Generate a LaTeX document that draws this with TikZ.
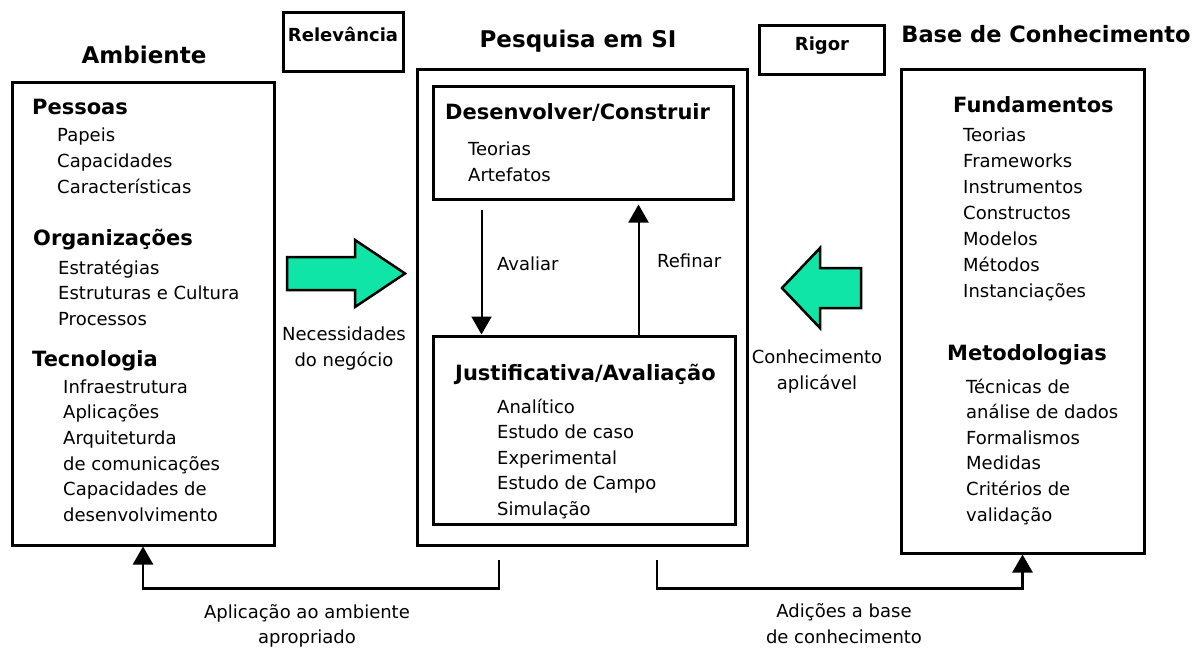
\documentclass[tikz,border=0pt]{standalone}
\usepackage{fontspec}
\setmainfont{DejaVu Sans}
\usetikzlibrary{arrows.meta}
\definecolor{arrowgreen}{RGB}{16,229,168}
\begin{document}
\begin{tikzpicture}[x=1pt,y=-1pt,
 box/.style={draw, line width=3pt, inner sep=0},
 item/.style={anchor=base west, inner sep=0, font=\fontsize{18}{22}\selectfont},
 citem/.style={anchor=base, inner sep=0, font=\fontsize{18}{22}\selectfont},
 head/.style={anchor=base west, inner sep=0, font=\fontsize{21}{25}\selectfont\bfseries},
 title/.style={anchor=base, inner sep=0, font=\fontsize{23}{27}\selectfont\bfseries},
 tag/.style={anchor=base, inner sep=0, font=\fontsize{18}{22}\selectfont\bfseries},
 conn/.style={line width=2.5pt, -{Triangle[width=20pt,length=18pt]}},
 inconn/.style={line width=2pt, -{Triangle[width=20pt,length=18pt]}},
 bigarrow/.style={draw, line width=2.5pt, fill=arrowgreen, line join=miter}]
\useasboundingbox (0,0) rectangle (1196,648);

% boxes
\node[box, minimum width=262, minimum height=463] (amb) at (143,313.5) {};
\node[box, minimum width=120, minimum height=59] (relbox) at (343,41.5) {};
\node[box, minimum width=125, minimum height=49] (rigbox) at (821.5,49.5) {};
\node[box, minimum width=330, minimum height=476] (pes) at (582,307) {};
\node[box, minimum width=300, minimum height=113] (dev) at (583,142.5) {};
\node[box, minimum width=302, minimum height=188] (jus) at (584,430) {};
\node[box, minimum width=243, minimum height=484] (kb) at (1022.5,311) {};

% titles
\node[title] (tamb) at (144,63) {Ambiente};
\node[title] (tpes) at (578,47) {Pesquisa em SI};
\node[title, font=\fontsize{22.5}{27}\selectfont\bfseries] (tkb) at (1046,42) {Base de Conhecimento};
\node[tag] (trel) at (343,41) {Relevância};
\node[tag] (trig) at (822,50) {Rigor};

% Ambiente contents
\node[head] (hpessoas) at (32,114) {Pessoas};
\foreach \t [count=\i] in {Papeis,Capacidades,Características}
  \node[item] (pe\i) at (57,{141+26*(\i-1)}) {\t};
\node[head] (horg) at (33,245) {Organizações};
\foreach \t [count=\i] in {Estratégias,Estruturas e Cultura,Processos}
  \node[item] (or\i) at (58,{274+25.5*(\i-1)}) {\t};
\node[head] (htec) at (32,366) {Tecnologia};
\foreach \t [count=\i] in {Infraestrutura,Aplicações,Arquiteturda,de comunicações,Capacidades de,desenvolvimento}
  \node[item] (te\i) at (63,{393+25.7*(\i-1)}) {\t};

% Pesquisa contents
\node[head] (hdev) at (445,119) {Desenvolver/Construir};
\node[item] (dv1) at (468,155) {Teorias};
\node[item] (dv2) at (468,181) {Artefatos};
\node[head] (hjus) at (455,380) {Justificativa/Avaliação};
\foreach \t [count=\i] in {Analítico,Estudo de caso,Experimental,Estudo de Campo,Simulação}
  \node[item] (ju\i) at (497,{413+25.5*(\i-1)}) {\t};
\node[item] (lav) at (497,270) {Avaliar};
\node[item] (lref) at (657,267) {Refinar};

% Base de conhecimento contents
\node[head] (hfun) at (953,112) {Fundamentos};
\foreach \t [count=\i] in {Teorias,Frameworks,Instrumentos,Constructos,Modelos,Métodos,Instanciações}
  \node[item] (fu\i) at (963,{141+26*(\i-1)}) {\t};
\node[head] (hmet) at (947,360) {Metodologias};
\foreach \t [count=\i] in {Técnicas de,análise de dados,Formalismos,Medidas,Critérios de,validação}
  \node[item] (me\i) at (966,{393+25.6*(\i-1)}) {\t};

% side labels
\node[citem] (nec1) at (344,340) {Necessidades};
\node[citem] (nec2) at (344,366) {do negócio};
\node[citem] (con1) at (817,363) {Conhecimento};
\node[citem] (con2) at (817,389) {aplicável};
\node[citem] (apl1) at (307,618) {Aplicação ao ambiente};
\node[citem] (apl2) at (307,643) {apropriado};
\node[citem] (adi1) at (844,617) {Adições a base};
\node[citem] (adi2) at (844,643) {de conhecimento};

% green arrows
\draw[bigarrow] (287,257) -- (355,257) -- (355,240) -- (405,273.5) -- (355,307) -- (355,290) -- (287,290) -- cycle;
\draw[bigarrow] (861,268) -- (820,268) -- (820,248) -- (782,288) -- (820,328) -- (820,308) -- (861,308) -- cycle;

% inner arrows
\draw[inconn] ([xshift=50pt,yshift=-9pt]dev.south west) -- ([xshift=50pt]jus.north west);
\draw[inconn] ([xshift=207pt]jus.north west) -- ([xshift=207pt,yshift=-4pt]dev.south west);

% bottom connectors
\coordinate (a1) at ([xshift=-83pt,yshift=-13pt]pes.south);
\coordinate (a2) at ([xshift=75pt,yshift=-13pt]pes.south);
\draw[conn] (a1) -- ++(0,29) -| (amb.south);
\draw[conn] (a2) -- ++(0,29) -| (kb.south);
\end{tikzpicture}
\end{document}
